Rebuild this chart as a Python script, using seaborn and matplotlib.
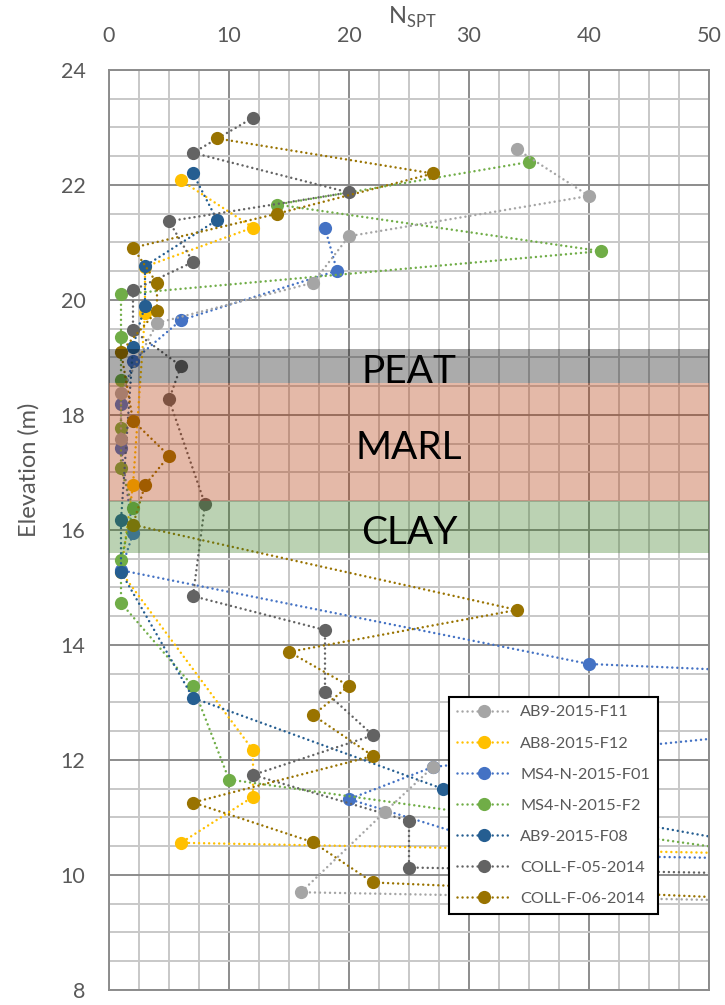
import pandas as pd
import matplotlib
matplotlib.use('Agg')
import matplotlib.pyplot as plt
from matplotlib.ticker import MultipleLocator
import seaborn as sns


# Furos de sondagem (ordem da legenda) e cores
furos = ['AB9-2015-F11', 'AB8-2015-F12', 'MS4-N-2015-F01', 'MS4-N-2015-F2',
         'AB9-2015-F08', 'COLL-F-05-2014', 'COLL-F-06-2014']
cores = ['#A5A5A5', '#FFC000', '#4472C4', '#70AD47', '#255E91', '#636363', '#997300']

# N_SPT x cota (m) de cada furo; valores acima de 50 ficam fora do grafico
f11_n = [34, 40, 20, 17, 4, 1, 1, 27, 23, 16, 80]
f11_z = [22.62, 21.81, 21.11, 20.30, 19.60, 18.39, 17.58, 11.88, 11.10, 9.70, 9.45]
f11_trecho = [0, 0, 0, 0, 0, 0, 0, 1, 1, 1, 1]   # falha no registo

f12_n = [6, 12, 3, 3, 2, 1, 12, 12, 6, 80]
f12_z = [22.08, 21.26, 20.58, 19.77, 16.78, 15.27, 12.17, 11.36, 10.56, 10.27]

f01_n = [18, 19, 6, 2, 1, 1, 2, 1, 40, 80, 80, 27, 20, 35, 80]
f01_z = [21.25, 20.51, 19.65, 18.94, 18.19, 17.43, 15.94, 15.30, 13.67, 13.31,
         13.00, 11.88, 11.32, 10.35, 10.20]

f2_n = [35, 14, 41, 1, 1, 1, 1, 1, 2, 1, 1, 7, 10, 80]
f2_z = [22.40, 21.66, 20.85, 20.10, 19.35, 18.60, 17.78, 17.07, 16.38, 15.48,
        14.73, 13.28, 11.66, 9.63]

f08_n = [7, 9, 3, 3, 2, 1, 1, 7, 27.8, 80]
f08_z = [22.20, 21.39, 20.59, 19.90, 19.19, 16.17, 15.27, 13.08, 11.50, 9.55]

c05_n = [12, 7, 20, 5, 7, 2, 2, 6, 5, 8, 7, 18, 18, 22, 12, 25, 25, 80]
c05_z = [23.17, 22.56, 21.87, 21.37, 20.66, 20.17, 19.47, 18.85, 18.27, 16.45,
         14.85, 14.26, 13.19, 12.43, 11.74, 10.94, 10.13, 9.93]

c06_n = [9, 27, 14, 2, 4, 4, 1, 2, 5, 3, 2, 34, 15, 20, 17, 22, 7, 17, 22, 80]
c06_z = [22.81, 22.20, 21.50, 20.91, 20.29, 19.81, 19.10, 17.90, 17.29, 16.78,
         16.09, 14.61, 13.88, 13.29, 12.78, 12.07, 11.26, 10.57, 9.87, 9.35]

# Camadas
camadas = ['PEAT', 'MARL', 'CLAY']
camada_topo = [19.15, 18.55, 16.50]
camada_base = [18.55, 16.50, 15.60]
camada_cor = ['#000000', '#B03200', '#3A7B22']
camada_alpha = [0.33, 0.34, 0.34]

x_ticks = [0, 10, 20, 30, 40, 50]
y_ticks = [8, 10, 12, 14, 16, 18, 20, 22, 24]

# Monta o dataframe longo
valores = [(f11_n, f11_z, f11_trecho), (f12_n, f12_z, None), (f01_n, f01_z, None),
           (f2_n, f2_z, None), (f08_n, f08_z, None), (c05_n, c05_z, None),
           (c06_n, c06_z, None)]
linhas = []
for nome, (ns, zs, tr) in zip(furos, valores):
    if tr is None:
        tr = [0] * len(ns)
    for n, z, t in zip(ns, zs, tr):
        linhas.append({'furo': nome, 'N': n, 'cota': z, 'trecho': t})
df = pd.DataFrame(linhas)

sns.set_theme(style='white')
plt.rcParams['font.family'] = ['Lato', 'DejaVu Sans']
cinza_txt = '#595959'

fig = plt.figure(figsize=(7.25, 10.05), dpi=100)
ax = fig.add_axes([109 / 725, 1 - 990 / 1005, 600 / 725, 920 / 1005])

for i, (nome, cor) in enumerate(zip(furos, cores)):
    sns.lineplot(data=df[df['furo'] == nome], x='N', y='cota', units='trecho',
                 estimator=None, sort=False, color=cor, marker='o', markersize=9.5,
                 markeredgewidth=0, linestyle=(0, (0.01, 2)), linewidth=1.8,
                 dash_capstyle='round', label=nome, ax=ax,
                 zorder=3 if i == 0 else 2)

# Faixas das camadas (por cima dos dados, transparentes)
for nome, topo, base, cor, a in zip(camadas, camada_topo, camada_base, camada_cor, camada_alpha):
    ax.axhspan(base, topo, color=cor, alpha=a, lw=0, zorder=5)
    ax.text(25, (topo + base) / 2 - 0.1, nome, ha='center', va='center',
            fontsize=28, color='black', zorder=6)

ax.set_xlim(0, 50)
ax.set_ylim(8, 24)
ax.set_xticks(x_ticks)
ax.set_yticks(y_ticks)
ax.xaxis.set_minor_locator(MultipleLocator(2.5))
ax.yaxis.set_minor_locator(MultipleLocator(0.5))
ax.grid(which='major', color='#8C8C8C', lw=1.4)
ax.grid(which='minor', color='#C8C8C8', lw=1.4)
ax.set_axisbelow(True)
for s in ax.spines.values():
    s.set_color('#8C8C8C')
    s.set_linewidth(1.4)

ax.tick_params(axis='x', top=True, labeltop=True, bottom=False, labelbottom=False, pad=17)
ax.tick_params(axis='y', pad=17)
ax.tick_params(which='both', length=0, labelsize=15.5, labelcolor=cinza_txt)

ax.set_xlabel(r'N$_\mathregular{SPT}$', fontsize=17, color=cinza_txt)
ax.xaxis.set_label_position('top')
ax.xaxis.set_label_coords(0.505, 1 + 65 / 920)
ax.xaxis.label.set_va('top')

ax.set_ylabel('Elevation (m)', fontsize=17, color=cinza_txt)
ax.yaxis.set_label_coords(-0.134, 1 - 333 / 920)
ax.yaxis.label.set(ha='center', va='top', rotation_mode='default')

# Legenda sem duplicados
handles, labels = ax.get_legend_handles_labels()
unicos = dict(zip(labels, handles))
leg = ax.legend([unicos[f] for f in furos], furos, loc='upper left',
                bbox_to_anchor=(340 / 600, 1 - 627 / 920), borderaxespad=0,
                fontsize=11.7, labelcolor=cinza_txt, frameon=True, fancybox=False,
                framealpha=1, edgecolor='black', handlelength=3.3,
                handletextpad=0.58, labelspacing=1.03, borderpad=0.5)
leg.get_frame().set_linewidth(1.5)
leg.set_zorder(10)

fig.savefig('out.png', dpi=100)
